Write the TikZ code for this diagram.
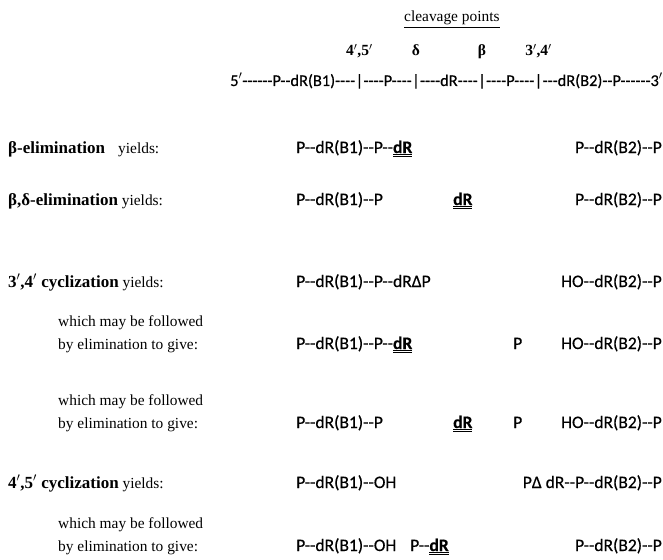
\documentclass[tikz,border=0pt]{standalone}
\usepackage{fontspec}
\setmainfont{Liberation Serif}
\newfontfamily\chemfont{Carlito}[Ligatures=TeXOff,FakeBold=0.5]
% bold sugar residue with a heavy double underline
\newcommand\uldR{\setbox0\hbox{\bfseries dR}\rlap{\rule[-2.2pt]{\wd0}{0.8pt}}\rlap{\rule[-3.6pt]{\wd0}{0.8pt}}\box0}
\newcommand\pr{$'$}
\begin{document}
\begin{tikzpicture}[x=1pt,y=-1pt,
  lbl/.style={anchor=base west,inner sep=0pt,font=\fontsize{15.4}{18}\selectfont},
  head/.style={anchor=base west,inner sep=0pt,font=\fontsize{15.4}{18}\selectfont},
  chem/.style={anchor=base west,inner sep=0pt,font=\chemfont\fontsize{17.5}{20}\selectfont},
  chemr/.style={chem,anchor=base east},
  seg/.style={anchor=base west,inner sep=0pt,font=\chemfont\fontsize{16.4}{19}\selectfont},
  cut/.style={anchor=base,inner sep=0pt,font=\bfseries\fontsize{15.5}{18}\selectfont}]
\newcommand\hd[1]{{\bfseries\fontsize{17}{20}\selectfont #1}}
\useasboundingbox (0,0) rectangle (663,559);

% strand with the four cleavage sites
\node[lbl] (cp) at (404,22) {\underline{cleavage points}};
\node[seg] (s0) at (230,86) {5\pr------P--dR(B1)----};
\node[seg] (b1) at (s0.base east) {|};
\node[seg] (s1) at (b1.base east) {----P----};
\node[seg] (b2) at (s1.base east) {|};
\node[seg] (s2) at (b2.base east) {----dR----};
\node[seg] (b3) at (s2.base east) {|};
\node[seg] (s3) at (b3.base east) {----P----};
\node[seg] (b4) at (s3.base east) {|};
\node[seg] (s4) at (b4.base east) {---dR(B2)--P------3\pr};
\path (b1.base) ++(0,-30) node[cut] (k1) {4\pr,5\pr};
\path (b2.base) ++(0,-30) node[cut] (k2) {δ};
\path (b3.base) ++(0,-30) node[cut] (k3) {β};
\path (b4.base) ++(0,-30) node[cut] (k4) {3\pr,4\pr};

% beta-elimination
\node[head] (r1) at (8,153) {\hd{β-elimination}};
\node[lbl] (r1y) at (118,153) {yields:};
\node[chem] (r1a) at (296,153) {P--dR(B1)--P--\uldR};
\node[chemr] (r1b) at (662,153) {P--dR(B2)--P};

% beta,delta-elimination
\node[head] (r2) at (8,205) {\hd{β,δ-elimination} yields:};
\node[chem] (r2a) at (296,205) {P--dR(B1)--P};
\node[chem] (r2b) at (453,205) {\uldR};
\node[chemr] (r2c) at (662,205) {P--dR(B2)--P};

% 3',4' cyclization
\node[head] (r3) at (8,287) {\hd{3\pr,4\pr\ cyclization} yields:};
\node[chem] (r3a) at (296,287) {P--dR(B1)--P--dRΔP};
\node[chemr] (r3b) at (662,287) {HO--dR(B2)--P};

\node[lbl] (r4w) at (58,326) {which may be followed};
\node[lbl] (r4) at (58,349) {by elimination to give:};
\node[chem] (r4a) at (296,349) {P--dR(B1)--P--\uldR};
\node[chem] (r4b) at (513,349) {P};
\node[chemr] (r4c) at (662,349) {HO--dR(B2)--P};

\node[lbl] (r5w) at (58,405) {which may be followed};
\node[lbl] (r5) at (58,428) {by elimination to give:};
\node[chem] (r5a) at (296,428) {P--dR(B1)--P};
\node[chem] (r5b) at (453,428) {\uldR};
\node[chem] (r5c) at (513,428) {P};
\node[chemr] (r5d) at (662,428) {HO--dR(B2)--P};

% 4',5' cyclization
\node[head] (r6) at (8,488) {\hd{4\pr,5\pr\ cyclization} yields:};
\node[chem] (r6a) at (296,488) {P--dR(B1)--OH};
\node[chemr] (r6b) at (662,488) {PΔ dR--P--dR(B2)--P};

\node[lbl] (r7w) at (58,528) {which may be followed};
\node[lbl] (r7) at (58,551) {by elimination to give:};
\node[chem] (r7a) at (296,551) {P--dR(B1)--OH};
\node[chem] (r7b) at (410,551) {P--\uldR};
\node[chemr] (r7c) at (662,551) {P--dR(B2)--P};
\end{tikzpicture}
\end{document}
